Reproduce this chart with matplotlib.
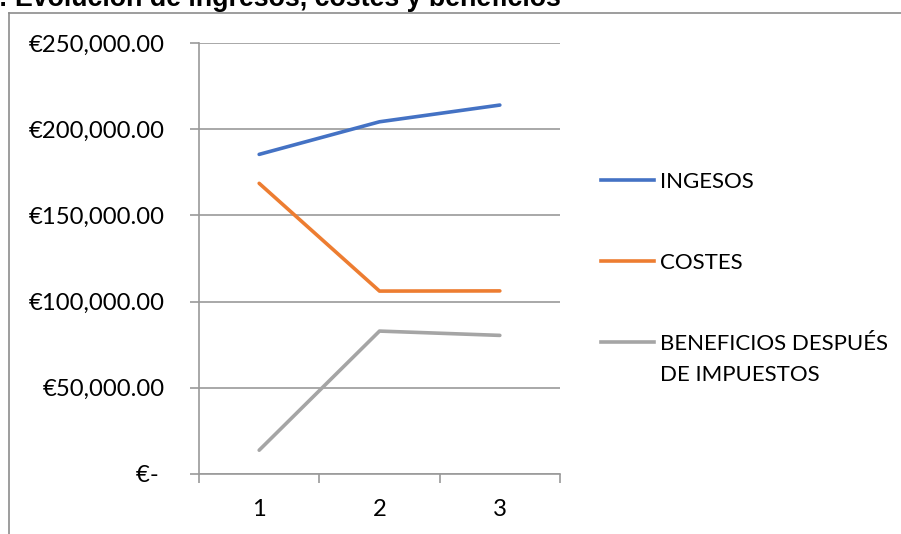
import matplotlib
matplotlib.use("Agg")
import matplotlib.pyplot as plt
from matplotlib.lines import Line2D
from matplotlib.ticker import FuncFormatter, FixedLocator

# Data
periods = [1, 2, 3]
ingresos = [185400, 204300, 214000]
costes = [168600, 106100, 106200]
beneficios = [13800, 82900, 80400]
series_names = ["INGESOS", "COSTES", "BENEFICIOS DESPUÉS\nDE IMPUESTOS"]
title_text = "Gráfico: Evolución de ingresos, costes y beneficios"

colors = ["#4472C4", "#ED7D31", "#A5A5A5"]
grid_color = "#9a9a9a"
label_font = "Lato"
tick_fs = 17.2
leg_fs = 16.0

fig = plt.figure(figsize=(9.01, 5.34), dpi=100)
W, H = 901, 534

# chart frame
fig.add_artist(Line2D([8.5 / W, 8.5 / W], [0, 1 - 12.5 / H], transform=fig.transFigure,
                      color="#8c8c8c", lw=1.2))
fig.add_artist(Line2D([8.5 / W, 1], [1 - 12.5 / H, 1 - 12.5 / H], transform=fig.transFigure,
                      color="#8c8c8c", lw=1.2))

# title (partly above the visible area)
fig.text(561 / W, 1 - 6 / H, title_text, ha="right", va="baseline",
         fontsize=19.3, fontweight="bold", family="Liberation Sans", color="#000000")

ax = fig.add_axes([199 / W, 1 - 474 / H, (560 - 199) / W, (474 - 43) / H])

for vals, c, name in zip([ingresos, costes, beneficios], colors, series_names):
    ax.plot(periods, vals, color=c, lw=2.6, solid_capstyle="round",
            solid_joinstyle="round", label=name, zorder=3)

ax.set_xlim(0.5, 3.5)
ax.set_ylim(0, 250000)
ax.set_yticks(range(0, 250001, 50000))


def euro(v, pos):
    if v == 0:
        return "€- "
    return "€{:,.2f}".format(v)


ax.yaxis.set_major_formatter(FuncFormatter(euro))
ax.set_xticks(periods)
ax.set_xticklabels([str(p) for p in periods])
ax.xaxis.set_minor_locator(FixedLocator([0.5, 1.5, 2.5, 3.5]))

ax.grid(axis="y", color=grid_color, lw=1.2, zorder=0)
ax.set_axisbelow(True)
for s in ["top", "right"]:
    ax.spines[s].set_visible(False)
for s in ["left", "bottom"]:
    ax.spines[s].set_color(grid_color)
    ax.spines[s].set_linewidth(1.2)

ax.tick_params(axis="y", length=6.5, width=1.2, color=grid_color, pad=18,
               labelsize=tick_fs, labelcolor="#000000")
ax.tick_params(axis="x", which="major", length=0, pad=18, labelsize=tick_fs,
               labelcolor="#000000")
ax.tick_params(axis="x", which="minor", length=6.5, width=1.2, color=grid_color)
for lab in ax.get_xticklabels() + ax.get_yticklabels():
    lab.set_family(label_font)

# legend
leg_px = leg_fs * 100 / 72
handles = [Line2D([], [], color=c, lw=2.6) for c in colors]
first_lines = [n.split("\n")[0] for n in series_names]
leg = fig.legend(handles, first_lines, loc="upper left",
                 bbox_to_anchor=(601 / W, 1 - 172 / H),
                 frameon=False, borderpad=0, borderaxespad=0,
                 handlelength=53 / leg_px, handletextpad=6 / leg_px,
                 labelspacing=2.75, prop={"family": label_font, "size": leg_fs})

# second line of the last legend label, set under its first line
fig.canvas.draw()
bb = leg.get_texts()[2].get_window_extent()
cy = 0.5 * (bb.y0 + bb.y1) - 31
fig.text(bb.x0 / W, cy / H, series_names[2].split("\n")[1], ha="left",
         va="center", family=label_font, fontsize=leg_fs, color="#000000")

fig.savefig("out.png", dpi=100)
